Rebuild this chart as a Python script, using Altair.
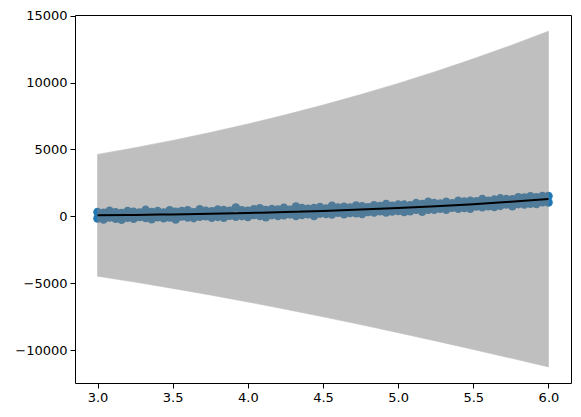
import altair as alt
import pandas as pd

# scatter x positions and two noisy samples per position
xs = [3.00, 3.04, 3.08, 3.12, 3.16, 3.20, 3.24, 3.28, 3.32, 3.36, 3.40, 3.44, 3.48, 3.52, 3.56,
      3.60, 3.64, 3.68, 3.72, 3.76, 3.80, 3.84, 3.88, 3.92, 3.96, 4.00, 4.04, 4.08, 4.12, 4.16,
      4.20, 4.24, 4.28, 4.32, 4.36, 4.40, 4.44, 4.48, 4.52, 4.56, 4.60, 4.64, 4.68, 4.72, 4.76,
      4.80, 4.84, 4.88, 4.92, 4.96, 5.00, 5.04, 5.08, 5.12, 5.16, 5.20, 5.24, 5.28, 5.32, 5.36,
      5.40, 5.44, 5.48, 5.52, 5.56, 5.60, 5.64, 5.68, 5.72, 5.76, 5.80, 5.84, 5.88, 5.92, 5.96, 6.00]
ys_a = [331, 265, 410, 305, 240, 395, 340, 286, 482, 328, 394, 290, 457, 344, 401,
        448, 306, 523, 412, 370, 509, 467, 417, 656, 456, 416, 536, 607, 468, 540,
        511, 633, 486, 728, 621, 565, 619, 693, 587, 782, 668, 724, 660, 806, 753,
        681, 829, 767, 916, 795, 885, 875, 836, 987, 919, 1081, 1004, 967, 1081, 985,
        1170, 1106, 1172, 1128, 1296, 1163, 1262, 1341, 1291, 1271, 1422, 1403, 1505, 1428, 1522, 1526]
ys_b = [-149, -225, -80, -165, -250, -95, -170, -34, -118, -202, -56, -130, -73, -226, 1,
        -82, -124, -27, 12, -90, -31, -103, 57, -24, 26, -44, 116, 27, -52, 100,
        41, 93, 156, 38, 111, 165, 29, 213, 177, 152, 278, 164, 260, 236, 183,
        331, 299, 387, 296, 365, 415, 335, 396, 497, 359, 501, 494, 577, 501, 655,
        570, 636, 582, 738, 696, 763, 712, 791, 891, 771, 922, 893, 955, 928, 1062, 1046]

# fitted curve and its band
fit_x = [3.0, 3.25, 3.5, 3.75, 4.0, 4.25, 4.5, 4.75, 5.0, 5.25, 5.5, 5.75, 6.0]
fit_y = [81, 112, 150, 198, 256, 326, 410, 509, 625, 760, 915, 1093, 1296]
band_hi = [4631, 5134, 5679, 6268, 6904, 7587, 8320, 9102, 9937, 10827, 11772, 12774, 13838]
band_lo = [-4469, -4910, -5379, -5872, -6392, -6935, -7500, -8084, -8687, -9307, -9942, -10588, -11246]

pts = pd.DataFrame({"x": xs + xs, "y": ys_a + ys_b})
fit = pd.DataFrame({"x": fit_x, "y": fit_y, "hi": band_hi, "lo": band_lo})

xscale = alt.Scale(domain=[2.85, 6.15], nice=False, zero=False)
yscale = alt.Scale(domain=[-12450, 15050], nice=False, zero=False)

xaxis = alt.Axis(values=[3.0, 3.5, 4.0, 4.5, 5.0, 5.5, 6.0], format=".1f", title=None,
                 grid=False, domain=False, tickColor="black", tickSize=5, labelPadding=3,
                 labelFont="DejaVu Sans", labelFontSize=13, labelColor="black")
yaxis = alt.Axis(values=[-10000, -5000, 0, 5000, 10000, 15000], format="d", title=None,
                 grid=False, domain=False, tickColor="black", tickSize=5, labelPadding=3,
                 labelFont="DejaVu Sans", labelFontSize=13, labelColor="black")

scatter = alt.Chart(pts).mark_circle(size=75, color="#1f77b4", opacity=1).encode(
    x=alt.X("x:Q", scale=xscale, axis=xaxis),
    y=alt.Y("y:Q", scale=yscale, axis=yaxis),
)

band = alt.Chart(fit).mark_area(color="#808080", opacity=0.5, stroke="#808080",
                                strokeOpacity=0.6, strokeWidth=1).encode(
    x=alt.X("x:Q", scale=xscale),
    y=alt.Y("hi:Q", scale=yscale),
    y2="lo:Q",
)

line = alt.Chart(fit).mark_line(color="black", strokeWidth=2, interpolate="monotone").encode(
    x=alt.X("x:Q", scale=xscale),
    y=alt.Y("y:Q", scale=yscale),
)

chart = alt.layer(scatter, band, line).properties(
    width=496, height=368,
    autosize=alt.AutoSizeParams(type="none"),
    padding={"left": 67, "top": 7, "right": 2, "bottom": 26},
).configure(
    background="white",
    view=alt.ViewConfig(stroke="black", strokeWidth=1),
)

chart.save("out.html", embed_options={"renderer": "svg", "actions": False})
